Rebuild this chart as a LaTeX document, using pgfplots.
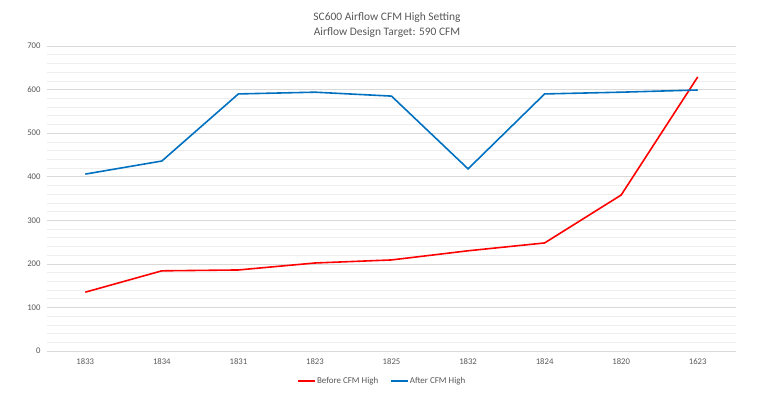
\documentclass[border=0pt]{standalone}
\usepackage{fontspec}
\setmainfont{Carlito}
\usepackage{pgfplots}
\pgfplotsset{compat=1.18}
\definecolor{txtgray}{HTML}{595959}
\definecolor{majgrid}{HTML}{D9D9D9}
\definecolor{mingrid}{HTML}{EEEEEE}
\definecolor{xlblue}{HTML}{0070C0}
\begin{document}
\begin{tikzpicture}[x=1bp,y=1bp]
\path[use as bounding box, fill=white] (0,0) rectangle (766,396);
\begin{axis}[
  at={(47bp,45bp)}, anchor=south west,
  scale only axis, width=689bp, height=305bp,
  xmin=-0.5, xmax=8.5, ymin=0, ymax=700,
  xtick={0,...,8},
  xticklabels={1833,1834,1831,1823,1825,1832,1824,1820,1623},
  ytick={0,100,...,700},
  minor y tick num=4,
  ymajorgrids, yminorgrids,
  major grid style={majgrid, line width=0.6pt},
  minor grid style={mingrid, line width=0.5pt},
  axis line style={draw=none},
  major tick length=0pt, minor tick length=0pt,
  tick label style={font=\fontsize{8.7}{10}\selectfont, text=txtgray},
  yticklabel style={xshift=-3bp},
  xticklabel style={yshift=-4bp},
  /pgf/number format/assume math mode=true,
  clip=false,
  legend style={at={(0.486,-0.098)}, anchor=center, draw=none, fill=none,
    legend columns=2, font=\fontsize{9}{10}\selectfont,
    nodes={inner sep=1bp, text=txtgray},
    /tikz/every even column/.append style={column sep=11bp}},
  legend image code/.code={\draw[#1, line width=1.6pt] (0bp,0bp) -- (17bp,0bp);},
]
\draw[majgrid, line width=0.6pt] (axis cs:-0.5,0) -- (axis cs:8.5,0);
\addplot[color=red, line width=1.6pt, mark=none] coordinates {
 (0,135) (1,184) (2,186) (3,202) (4,209) (5,230) (6,248) (7,358) (8,629)};
\addlegendentry{Before CFM High}
\addplot[color=xlblue, line width=1.6pt, mark=none] coordinates {
 (0,406) (1,436) (2,590) (3,594) (4,585) (5,418) (6,590) (7,594) (8,599)};
\addlegendentry{After CFM High}
\end{axis}
\node[text=txtgray, font=\fontsize{11.5}{14.5}\selectfont, align=center] at (387,371) {SC600 Airflow CFM High Setting\\Airflow Design Target: 590 CFM};
\end{tikzpicture}
\end{document}
